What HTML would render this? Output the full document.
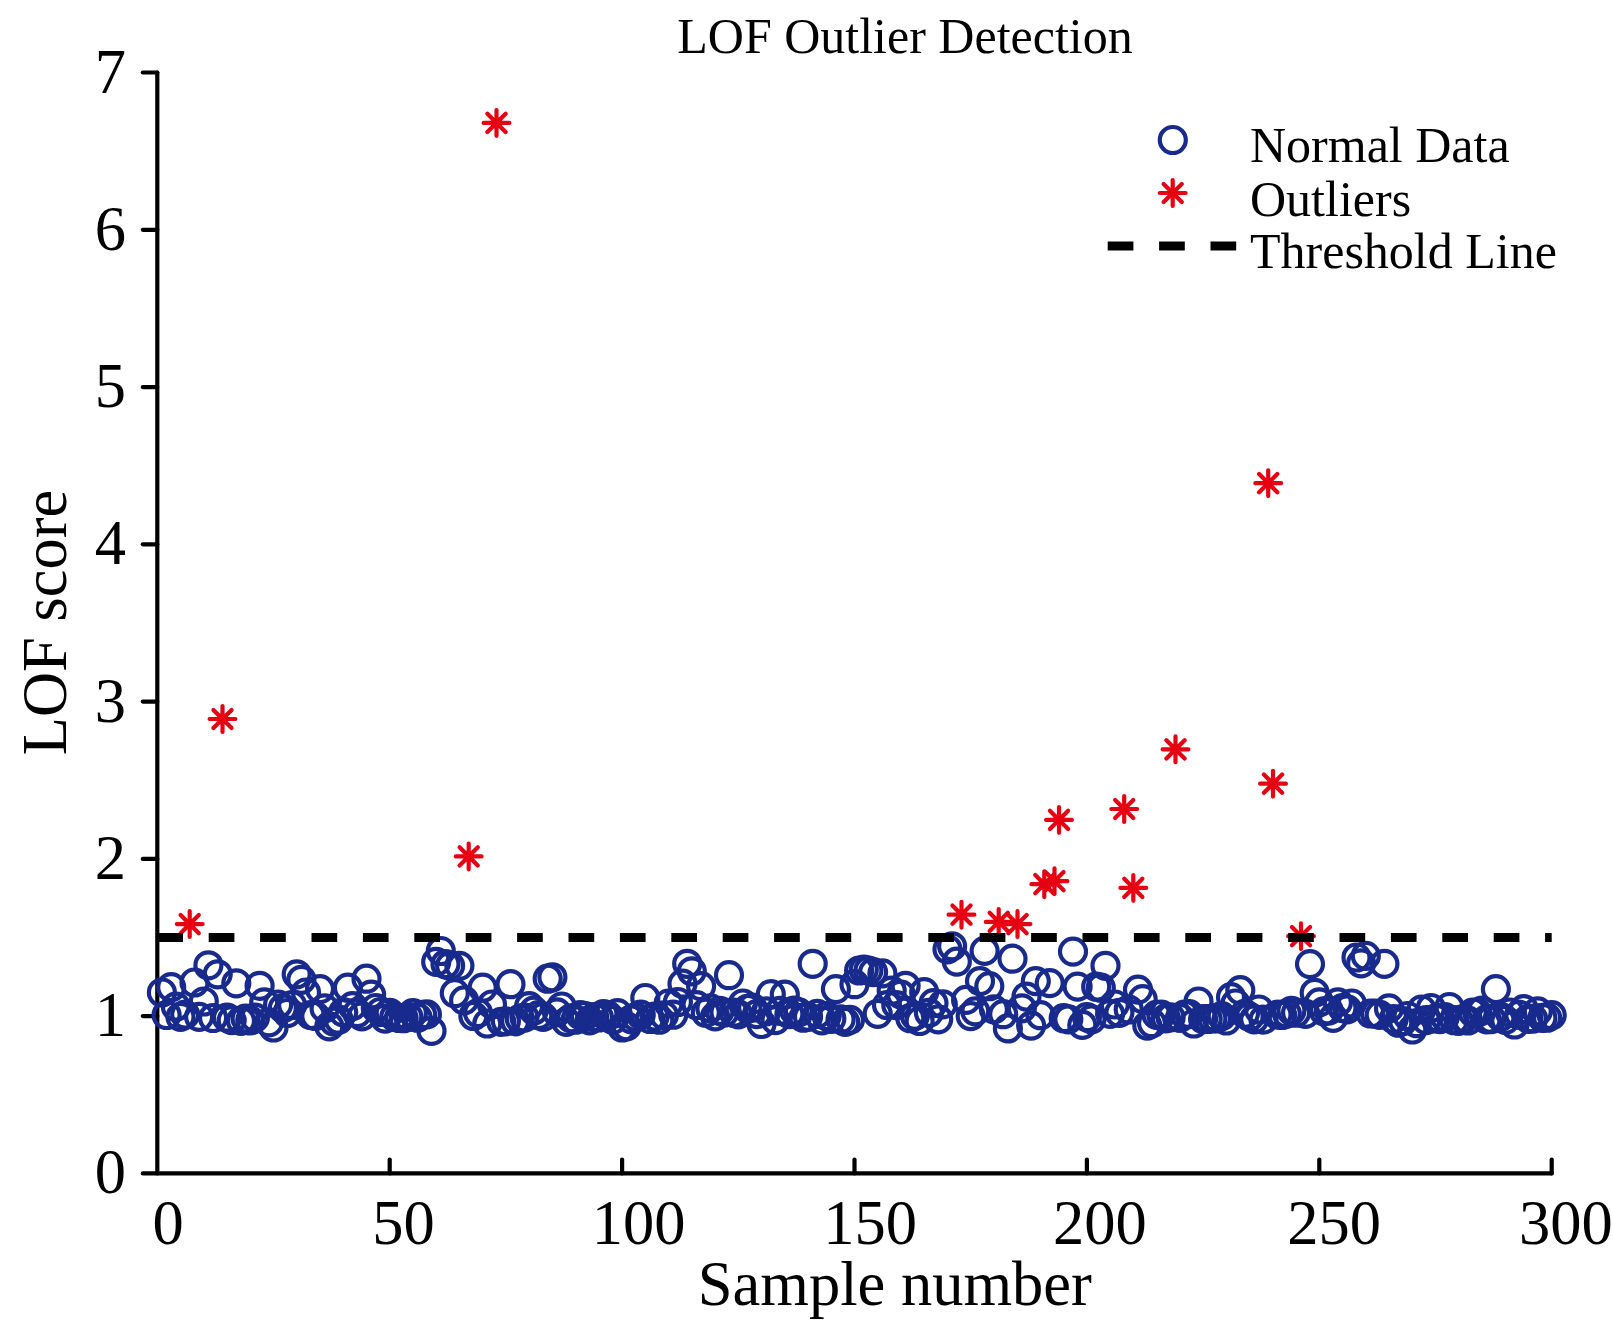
<!DOCTYPE html>
<html><head><meta charset="utf-8"><title>LOF Outlier Detection</title>
<style>
html,body{margin:0;padding:0;background:#fff;}
svg{display:block;}
text{font-family:"Liberation Serif",serif;fill:#000;}
.t62{font-size:62.5px;}
.t50{font-size:50px;}
</style></head><body>
<svg width="1613" height="1325" viewBox="0 0 1613 1325">
<rect width="1613" height="1325" fill="#fff"/>

<g stroke="#000" stroke-width="4.2" stroke-linecap="round" fill="none">
<path d="M157.3 72.5V1173.4"/>
<path d="M142.8 1173.4H1551.7"/>
<path d="M142.8 1016.1H157.3"/>
<path d="M142.8 858.9H157.3"/>
<path d="M142.8 701.6H157.3"/>
<path d="M142.8 544.3H157.3"/>
<path d="M142.8 387.1H157.3"/>
<path d="M142.8 229.8H157.3"/>
<path d="M142.8 72.5H157.3"/>
<path d="M389.7 1173.4V1159.5"/>
<path d="M622.1 1173.4V1159.5"/>
<path d="M854.5 1173.4V1159.5"/>
<path d="M1086.9 1173.4V1159.5"/>
<path d="M1319.3 1173.4V1159.5"/>
<path d="M1551.7 1173.4V1159.5"/>
</g>
<g stroke="#182a8c" stroke-width="4.2" fill="none">
<circle cx="161.9" cy="992.5" r="13"/>
<circle cx="166.6" cy="1015.0" r="13"/>
<circle cx="171.2" cy="987.2" r="13"/>
<circle cx="175.9" cy="1006.7" r="13"/>
<circle cx="180.5" cy="1016.9" r="13"/>
<circle cx="185.2" cy="1014.6" r="13"/>
<circle cx="194.5" cy="982.5" r="13"/>
<circle cx="199.1" cy="1016.8" r="13"/>
<circle cx="203.8" cy="1001.5" r="13"/>
<circle cx="208.4" cy="965.3" r="13"/>
<circle cx="213.1" cy="1018.0" r="13"/>
<circle cx="217.7" cy="974.3" r="13"/>
<circle cx="227.0" cy="1017.7" r="13"/>
<circle cx="231.7" cy="1020.1" r="13"/>
<circle cx="236.3" cy="983.3" r="13"/>
<circle cx="241.0" cy="1020.8" r="13"/>
<circle cx="245.6" cy="1018.5" r="13"/>
<circle cx="250.3" cy="1020.5" r="13"/>
<circle cx="254.9" cy="1017.7" r="13"/>
<circle cx="259.6" cy="985.8" r="13"/>
<circle cx="264.2" cy="1002.4" r="13"/>
<circle cx="268.9" cy="1022.4" r="13"/>
<circle cx="273.5" cy="1027.5" r="13"/>
<circle cx="278.1" cy="1004.5" r="13"/>
<circle cx="282.8" cy="1008.3" r="13"/>
<circle cx="287.4" cy="1013.0" r="13"/>
<circle cx="292.1" cy="1005.1" r="13"/>
<circle cx="296.7" cy="974.3" r="13"/>
<circle cx="301.4" cy="979.8" r="13"/>
<circle cx="306.0" cy="992.5" r="13"/>
<circle cx="310.7" cy="1015.0" r="13"/>
<circle cx="315.3" cy="1016.0" r="13"/>
<circle cx="320.0" cy="989.1" r="13"/>
<circle cx="324.6" cy="1008.4" r="13"/>
<circle cx="329.3" cy="1026.4" r="13"/>
<circle cx="333.9" cy="1021.6" r="13"/>
<circle cx="338.6" cy="1019.7" r="13"/>
<circle cx="343.2" cy="1012.2" r="13"/>
<circle cx="347.9" cy="987.7" r="13"/>
<circle cx="352.5" cy="1006.1" r="13"/>
<circle cx="357.2" cy="1013.1" r="13"/>
<circle cx="361.8" cy="1016.4" r="13"/>
<circle cx="366.5" cy="978.7" r="13"/>
<circle cx="371.1" cy="994.6" r="13"/>
<circle cx="375.8" cy="1008.0" r="13"/>
<circle cx="380.4" cy="1012.0" r="13"/>
<circle cx="385.1" cy="1018.6" r="13"/>
<circle cx="389.7" cy="1012.8" r="13"/>
<circle cx="394.3" cy="1016.9" r="13"/>
<circle cx="399.0" cy="1018.0" r="13"/>
<circle cx="403.6" cy="1018.2" r="13"/>
<circle cx="408.3" cy="1016.8" r="13"/>
<circle cx="412.9" cy="1013.1" r="13"/>
<circle cx="417.6" cy="1017.7" r="13"/>
<circle cx="422.2" cy="1014.9" r="13"/>
<circle cx="426.9" cy="1014.4" r="13"/>
<circle cx="431.5" cy="1030.9" r="13"/>
<circle cx="436.2" cy="961.9" r="13"/>
<circle cx="440.8" cy="951.0" r="13"/>
<circle cx="445.5" cy="964.2" r="13"/>
<circle cx="450.1" cy="965.8" r="13"/>
<circle cx="454.8" cy="993.2" r="13"/>
<circle cx="459.4" cy="965.8" r="13"/>
<circle cx="464.1" cy="1000.4" r="13"/>
<circle cx="473.4" cy="1016.0" r="13"/>
<circle cx="478.0" cy="1013.0" r="13"/>
<circle cx="482.7" cy="987.7" r="13"/>
<circle cx="487.3" cy="1023.5" r="13"/>
<circle cx="492.0" cy="1004.5" r="13"/>
<circle cx="501.3" cy="1021.9" r="13"/>
<circle cx="505.9" cy="1021.3" r="13"/>
<circle cx="510.5" cy="984.2" r="13"/>
<circle cx="515.2" cy="1021.3" r="13"/>
<circle cx="519.8" cy="1018.8" r="13"/>
<circle cx="524.5" cy="1017.5" r="13"/>
<circle cx="529.1" cy="1006.1" r="13"/>
<circle cx="533.8" cy="1010.6" r="13"/>
<circle cx="538.4" cy="1015.0" r="13"/>
<circle cx="543.1" cy="1016.9" r="13"/>
<circle cx="547.7" cy="978.7" r="13"/>
<circle cx="552.4" cy="977.3" r="13"/>
<circle cx="557.0" cy="1012.4" r="13"/>
<circle cx="561.7" cy="1006.5" r="13"/>
<circle cx="566.3" cy="1021.9" r="13"/>
<circle cx="571.0" cy="1018.3" r="13"/>
<circle cx="575.6" cy="1019.7" r="13"/>
<circle cx="580.3" cy="1015.0" r="13"/>
<circle cx="584.9" cy="1016.0" r="13"/>
<circle cx="589.6" cy="1020.4" r="13"/>
<circle cx="594.2" cy="1017.1" r="13"/>
<circle cx="598.9" cy="1017.5" r="13"/>
<circle cx="603.5" cy="1014.2" r="13"/>
<circle cx="608.2" cy="1015.7" r="13"/>
<circle cx="612.8" cy="1019.9" r="13"/>
<circle cx="617.5" cy="1013.1" r="13"/>
<circle cx="622.1" cy="1027.5" r="13"/>
<circle cx="626.7" cy="1026.4" r="13"/>
<circle cx="631.4" cy="1019.3" r="13"/>
<circle cx="636.0" cy="1017.1" r="13"/>
<circle cx="640.7" cy="1014.7" r="13"/>
<circle cx="645.3" cy="998.0" r="13"/>
<circle cx="650.0" cy="1019.0" r="13"/>
<circle cx="654.6" cy="1016.6" r="13"/>
<circle cx="659.3" cy="1019.7" r="13"/>
<circle cx="663.9" cy="1015.3" r="13"/>
<circle cx="668.6" cy="1003.5" r="13"/>
<circle cx="673.2" cy="1014.7" r="13"/>
<circle cx="677.9" cy="1002.0" r="13"/>
<circle cx="682.5" cy="983.7" r="13"/>
<circle cx="687.2" cy="963.8" r="13"/>
<circle cx="691.8" cy="971.3" r="13"/>
<circle cx="696.5" cy="1005.1" r="13"/>
<circle cx="701.1" cy="986.2" r="13"/>
<circle cx="705.8" cy="1012.7" r="13"/>
<circle cx="710.4" cy="1008.4" r="13"/>
<circle cx="715.1" cy="1016.4" r="13"/>
<circle cx="719.7" cy="1010.9" r="13"/>
<circle cx="724.4" cy="1012.5" r="13"/>
<circle cx="729.0" cy="975.2" r="13"/>
<circle cx="733.7" cy="1012.7" r="13"/>
<circle cx="738.3" cy="1014.4" r="13"/>
<circle cx="742.9" cy="1003.5" r="13"/>
<circle cx="747.6" cy="1008.9" r="13"/>
<circle cx="752.2" cy="1007.5" r="13"/>
<circle cx="756.9" cy="1014.1" r="13"/>
<circle cx="761.5" cy="1024.0" r="13"/>
<circle cx="766.2" cy="1011.4" r="13"/>
<circle cx="770.8" cy="994.1" r="13"/>
<circle cx="775.5" cy="1020.1" r="13"/>
<circle cx="780.1" cy="1010.9" r="13"/>
<circle cx="784.8" cy="994.6" r="13"/>
<circle cx="789.4" cy="1014.1" r="13"/>
<circle cx="794.1" cy="1010.6" r="13"/>
<circle cx="798.7" cy="1012.4" r="13"/>
<circle cx="803.4" cy="1017.7" r="13"/>
<circle cx="808.0" cy="1016.8" r="13"/>
<circle cx="812.7" cy="963.8" r="13"/>
<circle cx="817.3" cy="1013.9" r="13"/>
<circle cx="822.0" cy="1020.4" r="13"/>
<circle cx="826.6" cy="1016.0" r="13"/>
<circle cx="831.3" cy="1018.8" r="13"/>
<circle cx="835.9" cy="989.1" r="13"/>
<circle cx="840.6" cy="1019.4" r="13"/>
<circle cx="845.2" cy="1021.9" r="13"/>
<circle cx="849.9" cy="1019.9" r="13"/>
<circle cx="854.5" cy="984.2" r="13"/>
<circle cx="859.1" cy="970.5" r="13"/>
<circle cx="863.8" cy="969.7" r="13"/>
<circle cx="868.4" cy="970.5" r="13"/>
<circle cx="873.1" cy="972.1" r="13"/>
<circle cx="877.7" cy="1013.8" r="13"/>
<circle cx="882.4" cy="973.4" r="13"/>
<circle cx="887.0" cy="1005.1" r="13"/>
<circle cx="891.7" cy="990.7" r="13"/>
<circle cx="896.3" cy="1005.1" r="13"/>
<circle cx="901.0" cy="994.6" r="13"/>
<circle cx="905.6" cy="985.8" r="13"/>
<circle cx="910.3" cy="1018.2" r="13"/>
<circle cx="914.9" cy="1015.8" r="13"/>
<circle cx="919.6" cy="1021.0" r="13"/>
<circle cx="924.2" cy="992.1" r="13"/>
<circle cx="928.9" cy="1012.8" r="13"/>
<circle cx="933.5" cy="1003.1" r="13"/>
<circle cx="938.2" cy="1019.3" r="13"/>
<circle cx="942.8" cy="1004.3" r="13"/>
<circle cx="947.5" cy="949.3" r="13"/>
<circle cx="952.1" cy="946.3" r="13"/>
<circle cx="956.8" cy="961.6" r="13"/>
<circle cx="966.1" cy="999.9" r="13"/>
<circle cx="970.7" cy="1016.1" r="13"/>
<circle cx="975.3" cy="1011.4" r="13"/>
<circle cx="980.0" cy="981.1" r="13"/>
<circle cx="984.6" cy="950.9" r="13"/>
<circle cx="989.3" cy="986.2" r="13"/>
<circle cx="993.9" cy="1009.4" r="13"/>
<circle cx="1003.2" cy="1014.2" r="13"/>
<circle cx="1007.9" cy="1028.4" r="13"/>
<circle cx="1012.5" cy="958.7" r="13"/>
<circle cx="1021.8" cy="1008.3" r="13"/>
<circle cx="1026.5" cy="996.6" r="13"/>
<circle cx="1031.1" cy="1025.6" r="13"/>
<circle cx="1035.8" cy="981.1" r="13"/>
<circle cx="1040.4" cy="1015.2" r="13"/>
<circle cx="1049.7" cy="983.1" r="13"/>
<circle cx="1063.7" cy="1018.2" r="13"/>
<circle cx="1068.3" cy="1019.3" r="13"/>
<circle cx="1073.0" cy="951.6" r="13"/>
<circle cx="1077.6" cy="986.6" r="13"/>
<circle cx="1082.3" cy="1024.9" r="13"/>
<circle cx="1086.9" cy="1017.2" r="13"/>
<circle cx="1091.5" cy="1019.3" r="13"/>
<circle cx="1096.2" cy="986.7" r="13"/>
<circle cx="1100.8" cy="987.7" r="13"/>
<circle cx="1105.5" cy="965.8" r="13"/>
<circle cx="1110.1" cy="1013.9" r="13"/>
<circle cx="1114.8" cy="1004.5" r="13"/>
<circle cx="1119.4" cy="1012.8" r="13"/>
<circle cx="1128.7" cy="1009.5" r="13"/>
<circle cx="1138.0" cy="989.6" r="13"/>
<circle cx="1142.7" cy="999.1" r="13"/>
<circle cx="1147.3" cy="1025.6" r="13"/>
<circle cx="1152.0" cy="1023.2" r="13"/>
<circle cx="1156.6" cy="1014.9" r="13"/>
<circle cx="1161.3" cy="1014.6" r="13"/>
<circle cx="1165.9" cy="1018.3" r="13"/>
<circle cx="1170.6" cy="1017.4" r="13"/>
<circle cx="1179.9" cy="1017.9" r="13"/>
<circle cx="1184.5" cy="1014.6" r="13"/>
<circle cx="1189.2" cy="1014.1" r="13"/>
<circle cx="1193.8" cy="1023.5" r="13"/>
<circle cx="1198.5" cy="1001.5" r="13"/>
<circle cx="1203.1" cy="1019.1" r="13"/>
<circle cx="1207.7" cy="1019.0" r="13"/>
<circle cx="1212.4" cy="1018.5" r="13"/>
<circle cx="1217.0" cy="1018.3" r="13"/>
<circle cx="1221.7" cy="1016.1" r="13"/>
<circle cx="1226.3" cy="1020.5" r="13"/>
<circle cx="1231.0" cy="997.1" r="13"/>
<circle cx="1235.6" cy="1003.5" r="13"/>
<circle cx="1240.3" cy="990.2" r="13"/>
<circle cx="1244.9" cy="1013.8" r="13"/>
<circle cx="1249.6" cy="1016.8" r="13"/>
<circle cx="1254.2" cy="1019.3" r="13"/>
<circle cx="1258.9" cy="1009.5" r="13"/>
<circle cx="1263.5" cy="1019.6" r="13"/>
<circle cx="1277.5" cy="1014.7" r="13"/>
<circle cx="1282.1" cy="1015.0" r="13"/>
<circle cx="1286.8" cy="1013.6" r="13"/>
<circle cx="1291.4" cy="1010.8" r="13"/>
<circle cx="1296.1" cy="1012.7" r="13"/>
<circle cx="1305.4" cy="1013.9" r="13"/>
<circle cx="1310.0" cy="964.1" r="13"/>
<circle cx="1314.7" cy="992.9" r="13"/>
<circle cx="1319.3" cy="1002.4" r="13"/>
<circle cx="1323.9" cy="1011.3" r="13"/>
<circle cx="1328.6" cy="1010.5" r="13"/>
<circle cx="1333.2" cy="1017.9" r="13"/>
<circle cx="1337.9" cy="1002.4" r="13"/>
<circle cx="1342.5" cy="1008.0" r="13"/>
<circle cx="1347.2" cy="1009.4" r="13"/>
<circle cx="1351.8" cy="1003.5" r="13"/>
<circle cx="1356.5" cy="957.5" r="13"/>
<circle cx="1361.1" cy="963.4" r="13"/>
<circle cx="1365.8" cy="955.9" r="13"/>
<circle cx="1370.4" cy="1013.5" r="13"/>
<circle cx="1375.1" cy="1013.6" r="13"/>
<circle cx="1379.7" cy="1014.9" r="13"/>
<circle cx="1384.4" cy="963.9" r="13"/>
<circle cx="1389.0" cy="1008.4" r="13"/>
<circle cx="1393.7" cy="1019.0" r="13"/>
<circle cx="1398.3" cy="1022.7" r="13"/>
<circle cx="1403.0" cy="1021.0" r="13"/>
<circle cx="1407.6" cy="1016.0" r="13"/>
<circle cx="1412.3" cy="1029.5" r="13"/>
<circle cx="1416.9" cy="1023.2" r="13"/>
<circle cx="1421.6" cy="1009.5" r="13"/>
<circle cx="1426.2" cy="1020.1" r="13"/>
<circle cx="1430.9" cy="1008.0" r="13"/>
<circle cx="1435.5" cy="1018.5" r="13"/>
<circle cx="1440.1" cy="1019.1" r="13"/>
<circle cx="1444.8" cy="1017.1" r="13"/>
<circle cx="1449.4" cy="1007.0" r="13"/>
<circle cx="1454.1" cy="1020.2" r="13"/>
<circle cx="1458.7" cy="1020.8" r="13"/>
<circle cx="1463.4" cy="1019.1" r="13"/>
<circle cx="1468.0" cy="1020.5" r="13"/>
<circle cx="1472.7" cy="1012.5" r="13"/>
<circle cx="1477.3" cy="1012.5" r="13"/>
<circle cx="1482.0" cy="1010.5" r="13"/>
<circle cx="1486.6" cy="1019.4" r="13"/>
<circle cx="1491.3" cy="1019.1" r="13"/>
<circle cx="1495.9" cy="989.1" r="13"/>
<circle cx="1500.6" cy="1016.9" r="13"/>
<circle cx="1505.2" cy="1019.9" r="13"/>
<circle cx="1509.9" cy="1012.5" r="13"/>
<circle cx="1514.5" cy="1024.5" r="13"/>
<circle cx="1519.2" cy="1014.7" r="13"/>
<circle cx="1523.8" cy="1009.1" r="13"/>
<circle cx="1528.5" cy="1018.8" r="13"/>
<circle cx="1533.1" cy="1018.6" r="13"/>
<circle cx="1537.8" cy="1011.4" r="13"/>
<circle cx="1542.4" cy="1017.9" r="13"/>
<circle cx="1547.1" cy="1017.7" r="13"/>
<circle cx="1551.7" cy="1015.2" r="13"/>
<circle cx="1172.8" cy="140" r="13"/>
</g>
<g stroke="#e60012" stroke-width="4.2" stroke-linecap="round" fill="none">
<path d="M176.8 924.1h25.8M189.7 911.2v25.8M180.6 915.0l18.2 18.2M180.6 933.2l18.2 -18.2"/>
<path d="M209.6 719.0h25.8M222.5 706.1v25.8M213.4 709.9l18.2 18.2M213.4 728.1l18.2 -18.2"/>
<path d="M455.8 856.4h25.8M468.7 843.5v25.8M459.6 847.3l18.2 18.2M459.6 865.5l18.2 -18.2"/>
<path d="M483.6 122.9h25.8M496.5 110.0v25.8M487.4 113.8l18.2 18.2M487.4 132.0l18.2 -18.2"/>
<path d="M948.6 914.7h25.8M961.5 901.8v25.8M952.4 905.6l18.2 18.2M952.4 923.8l18.2 -18.2"/>
<path d="M985.8 921.9h25.8M998.7 909.0v25.8M989.6 912.8l18.2 18.2M989.6 931.0l18.2 -18.2"/>
<path d="M1004.6 924.1h25.8M1017.5 911.2v25.8M1008.4 915.0l18.2 18.2M1008.4 933.2l18.2 -18.2"/>
<path d="M1031.4 884.2h25.8M1044.3 871.3v25.8M1035.2 875.1l18.2 18.2M1035.2 893.3l18.2 -18.2"/>
<path d="M1041.6 881.2h25.8M1054.5 868.3v25.8M1045.4 872.1l18.2 18.2M1045.4 890.3l18.2 -18.2"/>
<path d="M1046.1 819.9h25.8M1059.0 807.0v25.8M1049.9 810.8l18.2 18.2M1049.9 829.0l18.2 -18.2"/>
<path d="M1111.3 809.0h25.8M1124.2 796.1v25.8M1115.1 799.9l18.2 18.2M1115.1 818.1l18.2 -18.2"/>
<path d="M1120.4 887.9h25.8M1133.3 875.0v25.8M1124.2 878.8l18.2 18.2M1124.2 897.0l18.2 -18.2"/>
<path d="M1162.6 749.3h25.8M1175.5 736.4v25.8M1166.4 740.2l18.2 18.2M1166.4 758.4l18.2 -18.2"/>
<path d="M1255.3 483.2h25.8M1268.2 470.3v25.8M1259.1 474.1l18.2 18.2M1259.1 492.3l18.2 -18.2"/>
<path d="M1260.1 783.7h25.8M1273.0 770.8v25.8M1263.9 774.6l18.2 18.2M1263.9 792.8l18.2 -18.2"/>
<path d="M1288.1 936.2h25.8M1301.0 923.3v25.8M1291.9 927.1l18.2 18.2M1291.9 945.3l18.2 -18.2"/>
<path d="M1159.8 193.0h25.8M1172.7 180.1v25.8M1163.6 183.9l18.2 18.2M1163.6 202.1l18.2 -18.2"/>
</g>
<path d="M157.3 937.5H1551.7" stroke="#000" stroke-width="8.8" stroke-dasharray="25.7 25.7" fill="none"/>
<path d="M1107.7 246H1241" stroke="#000" stroke-width="8.8" stroke-dasharray="25.7 25.7" fill="none"/>
<text class="t50" x="905" y="53.2" text-anchor="middle">LOF Outlier Detection</text>
<text class="t62" x="894.8" y="1305.4" text-anchor="middle">Sample number</text>
<text class="t62" transform="translate(65.7 622.5) rotate(-90)" text-anchor="middle">LOF score</text>
<text class="t62" x="126" y="1193.4" text-anchor="end">0</text>
<text class="t62" x="126" y="1036.1" text-anchor="end">1</text>
<text class="t62" x="126" y="878.9" text-anchor="end">2</text>
<text class="t62" x="126" y="721.6" text-anchor="end">3</text>
<text class="t62" x="126" y="564.3" text-anchor="end">4</text>
<text class="t62" x="126" y="407.1" text-anchor="end">5</text>
<text class="t62" x="126" y="249.8" text-anchor="end">6</text>
<text class="t62" x="126" y="92.5" text-anchor="end">7</text>
<text class="t62" x="168.1" y="1243.5" text-anchor="middle">0</text>
<text class="t62" x="403.4" y="1243.5" text-anchor="middle">50</text>
<text class="t62" x="638.5" y="1243.5" text-anchor="middle">100</text>
<text class="t62" x="870.2" y="1243.5" text-anchor="middle">150</text>
<text class="t62" x="1099.8" y="1243.5" text-anchor="middle">200</text>
<text class="t62" x="1334.2" y="1243.5" text-anchor="middle">250</text>
<text class="t62" x="1565.8" y="1243.5" text-anchor="middle">300</text>
<text class="t50" x="1250" y="161.5">Normal Data</text>
<text class="t50" x="1250" y="215.8">Outliers</text>
<text class="t50" x="1250" y="267.9">Threshold Line</text>
</svg></body></html>
